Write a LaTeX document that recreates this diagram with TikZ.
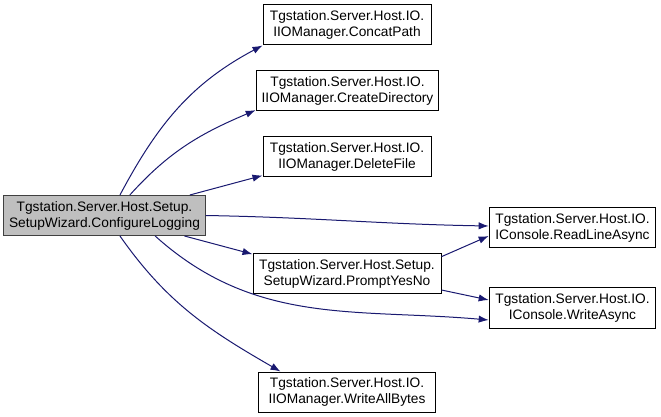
\documentclass[tikz,border=0pt]{standalone}
\usepackage{fontspec}
\setmainfont{Liberation Sans}
\usetikzlibrary{arrows.meta}
\definecolor{edgeblue}{HTML}{191970}
\begin{document}
\begin{tikzpicture}[
                    x=0.75pt, y=-0.75pt,
                    font=\fontsize{10.3}{12}\selectfont,
                    box/.style={draw=black, fill=white, line width=0.75pt, align=center,
                                minimum height=30pt, inner sep=0pt},
                    focus/.style={box, draw=black!75, fill=black!25},
                    edge/.style={draw=edgeblue, line width=0.75pt,
                                 -{Latex[length=7.5pt,width=5.5pt]}}
                ]
                \useasboundingbox (0,0) rectangle (661,417);

                \node[focus, minimum width=151pt] (main) at (104.5,215.5)
                    {Tgstation.Server.Host.Setup.\\SetupWizard.ConfigureLogging};

                \node[box, minimum width=126pt] (concat) at (347,25)
                    {Tgstation.Server.Host.IO.\\IIOManager.ConcatPath};
                \node[box, minimum width=137pt] (mkdir)  at (347.5,91)
                    {Tgstation.Server.Host.IO.\\IIOManager.CreateDirectory};
                \node[box, minimum width=126pt] (delete) at (347,157)
                    {Tgstation.Server.Host.IO.\\IIOManager.DeleteFile};
                \node[box, minimum width=141pt] (prompt) at (347,274)
                    {Tgstation.Server.Host.Setup.\\SetupWizard.PromptYesNo};
                \node[box, minimum width=133pt] (writeall) at (347,392)
                    {Tgstation.Server.Host.IO.\\IIOManager.WriteAllBytes};

                \node[box, minimum width=125pt] (readline) at (572.5,228)
                    {Tgstation.Server.Host.IO.\\IConsole.ReadLineAsync};
                \node[box, minimum width=125pt] (write) at (572.5,308)
                    {Tgstation.Server.Host.IO.\\IConsole.WriteAsync};

                \draw[edge] ([xshift=11.6pt]main.north) to[out=62, in=208] (concat.south west);
                \draw[edge] ([xshift=19pt]main.north)   to[out=48, in=203] ([yshift=1pt]mkdir.south west);
                \draw[edge] ([xshift=64pt]main.north)   -- ([yshift=1.5pt]delete.south west);
                \draw[edge] (main.east) to[out=-1, in=179] ([yshift=1.5pt]readline.west);
                \draw[edge] ([xshift=60pt]main.south)   -- ([yshift=-0.5pt]prompt.north west);
                \draw[edge] ([xshift=38pt]main.south)   to[out=-42, in=175] ([yshift=-9pt]write.west);
                \draw[edge] ([xshift=11.6pt]main.south) to[out=-55, in=150] ([xshift=17pt]writeall.north west);
                \draw[edge] ([yshift=13pt]prompt.east)  -- ([yshift=-6pt]readline.west);
                \draw[edge] ([yshift=-12pt]prompt.east) -- ([yshift=6pt]write.west);

            \end{tikzpicture}
\end{document}
